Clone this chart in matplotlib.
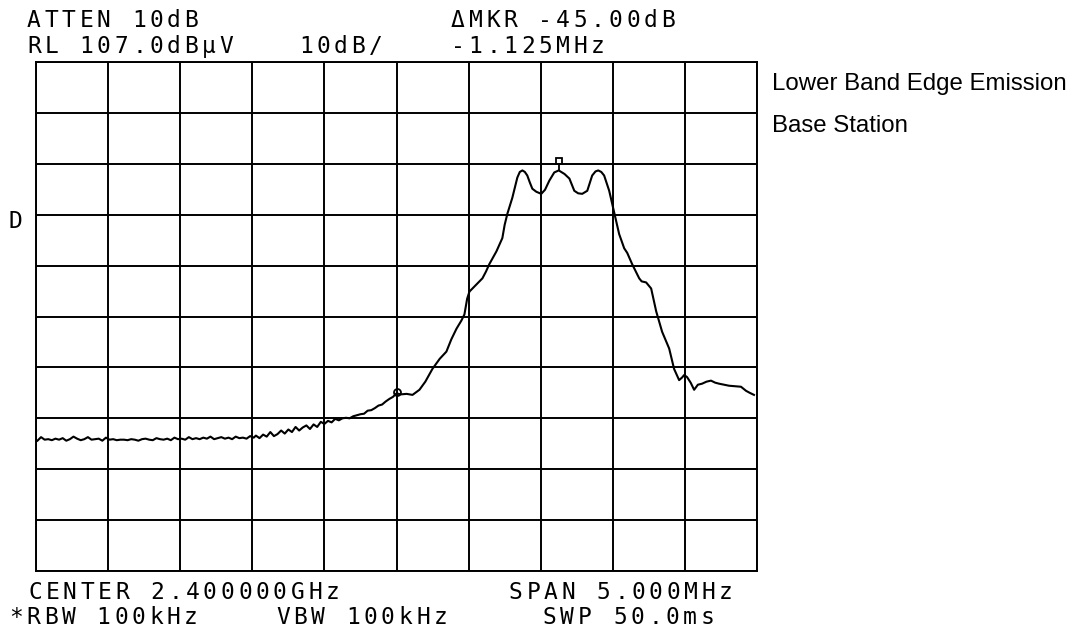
import numpy as np
import matplotlib.pyplot as plt

W, H = 1086, 638

# sweep: offset from 2.400000 GHz in MHz, level in dBuV
floor_start, floor_stop = -2.49, -0.99
floor_level = [32.6, 33.3, 32.8, 32.9, 32.7, 33.0, 32.8, 33.1, 32.6, 32.9,
               33.4, 33.0, 32.7, 32.9, 33.3, 32.8, 32.9, 33.0, 32.6, 33.2,
               32.8, 32.9, 32.7, 32.8, 32.8, 32.7, 32.9, 32.8, 32.6, 32.9,
               33.0, 32.8, 32.7, 33.1, 32.9, 32.8, 33.0, 32.7, 33.2, 32.9,
               33.0, 32.8, 33.3, 32.9, 33.1, 32.9, 33.2, 33.0, 33.4, 32.9,
               33.1, 33.3, 33.0, 33.2, 32.9, 33.4, 33.1, 33.2, 33.0, 33.5, 33.2]

rise_start, rise_stop = -0.975, 0.0
rise_level = [33.6, 33.1, 33.8, 33.4, 34.3, 33.5, 33.9, 34.6, 34.0, 34.8,
              34.3, 35.3, 34.6, 35.2, 35.6, 34.9, 35.8, 35.3, 36.3, 35.9,
              36.5, 36.2, 36.9, 36.6, 37.0, 37.1, 37.0, 37.4, 37.6, 37.8,
              37.9, 38.5, 38.6, 39.0, 39.5, 39.7, 40.3, 40.8, 41.2, 41.9]

band_freq = [0.03, 0.07, 0.111, 0.159, 0.2, 0.249, 0.3, 0.346, 0.38, 0.416,
             0.45, 0.471, 0.49, 0.506, 0.554, 0.596, 0.62, 0.644, 0.693, 0.734,
             0.75, 0.769, 0.803, 0.838, 0.855, 0.873, 0.89, 0.907, 0.925, 0.942,
             0.97, 1.004, 1.03, 1.06, 1.094, 1.125, 1.165, 1.199, 1.233, 1.26,
             1.288, 1.323, 1.357, 1.38, 1.399, 1.42, 1.44, 1.475, 1.51, 1.544,
             1.579, 1.6, 1.634, 1.683, 1.7, 1.731, 1.766, 1.801, 1.842, 1.891,
             1.925, 1.96, 1.98, 1.995, 2.015, 2.04, 2.064, 2.09, 2.119, 2.15,
             2.181, 2.21, 2.237, 2.27, 2.306, 2.35, 2.389, 2.424, 2.45, 2.479]
band_level = [41.7, 41.8, 41.6, 42.6, 44.2, 46.7, 48.7, 50.1, 52.5, 54.6,
              56.2, 57.4, 60.5, 61.9, 63.3, 64.5, 65.8, 67.3, 69.8, 72.4,
              75.0, 77.2, 80.3, 84.3, 85.4, 85.7, 85.4, 84.7, 83.3, 82.1,
              81.5, 81.1, 81.9, 83.7, 85.3, 85.7, 85.0, 84.1, 81.7, 81.2,
              81.1, 81.7, 84.7, 85.5, 85.7, 85.4, 84.7, 81.7, 77.4, 73.2,
              70.4, 69.5, 67.3, 64.5, 63.9, 63.7, 62.5, 58.0, 54.0, 50.7,
              46.7, 44.5, 45.0, 45.5, 45.1, 44.0, 42.6, 43.6, 43.8, 44.2,
              44.4, 44.0, 43.8, 43.6, 43.4, 43.3, 43.2, 42.4, 42.0, 41.6]

ref_level = 107.0
db_per_div = 10
span = 5.0
marker_freq, marker_level = 0.0, 42.2
peak_freq, peak_level = 1.125, 85.7

freq = np.concatenate([np.linspace(floor_start, floor_stop, len(floor_level)),
                       np.linspace(rise_start, rise_stop, len(rise_level)),
                       band_freq])
level = np.concatenate([floor_level, rise_level, band_level])

fig = plt.figure(figsize=(W / 100, H / 100), dpi=100)
ax = fig.add_axes([36 / W, 1 - 571 / H, 721 / W, 509 / H])

ax.plot(freq, level, color="black", linewidth=1.5)
ax.plot([marker_freq], [marker_level], marker="o", markersize=5, fillstyle="none",
        color="black", markeredgewidth=1.3)
ax.plot([peak_freq, peak_freq], [peak_level, peak_level + 1.2], color="black", linewidth=1.3)
ax.plot([peak_freq], [peak_level + 1.8], marker="s", markersize=5, fillstyle="none",
        color="black", markeredgewidth=1.3)

ax.set_xlim(-span / 2, span / 2)
ax.set_ylim(ref_level - 10 * db_per_div, ref_level)
ax.set_xticks(np.linspace(-span / 2, span / 2, 11))
ax.set_yticks(np.linspace(ref_level - 10 * db_per_div, ref_level, 11))
ax.grid(True, color="black", linewidth=1.4)
ax.tick_params(length=0, labelbottom=False, labelleft=False)
for s in ax.spines.values():
    s.set_linewidth(1.4)


def hp_text(x, y, s, pitch=17.5):
    # pixel coords, y = baseline
    for i, c in enumerate(s):
        if c != " ":
            fig.text((x + i * pitch) / W, 1 - y / H, c, fontsize=16.5,
                     family="DejaVu Sans Mono", va="baseline", ha="left")


hp_text(27, 27, "ATTEN 10dB")
hp_text(27, 53, "RL 107.0dBμV")
hp_text(299, 53, "10dB/")
hp_text(451, 27, "ΔMKR -45.00dB")
hp_text(451, 53, "-1.125MHz")
hp_text(9, 228, "D")
hp_text(28, 599, "CENTER 2.400000GHz")
hp_text(509, 599, "SPAN 5.000MHz")
hp_text(9, 624, "*RBW 100kHz")
hp_text(276, 624, "VBW 100kHz")
hp_text(543, 624, "SWP 50.0ms")

fig.text(772 / W, 1 - 90 / H, "Lower Band Edge Emission", fontsize=17.3,
         family="Liberation Sans", va="baseline")
fig.text(772 / W, 1 - 132 / H, "Base Station", fontsize=17.3,
         family="Liberation Sans", va="baseline")

fig.savefig("out.png", dpi=100)
